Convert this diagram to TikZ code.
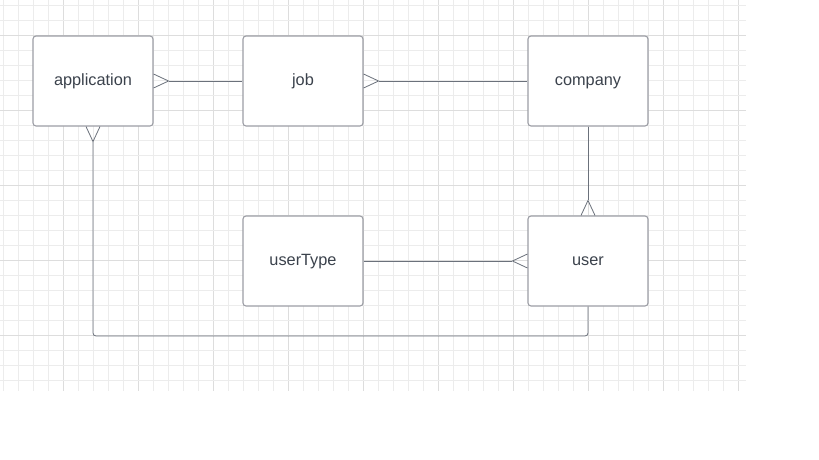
\documentclass[tikz,border=0pt]{standalone}
\usepackage{fontspec}
\setmainfont{Liberation Sans}
\usetikzlibrary{calc}
\definecolor{gridminor}{HTML}{ECECEC}
\definecolor{gridmajor}{HTML}{DDDDDD}
\definecolor{boxline}{HTML}{9C9EA5}
\definecolor{conline}{HTML}{6B717B}
\definecolor{txt}{HTML}{3B424C}
\tikzset{
  entity/.style={draw=boxline, line width=1.1pt, fill=white, rounded corners=3pt,
    minimum width=120pt, minimum height=90pt, inner sep=0pt, text=txt,
    text height=11.5pt, text depth=3.5pt,
    font=\fontsize{16.3}{19}\selectfont},
  conn/.style={draw=conline, line width=0.8pt},
}
\begin{document}
\begin{tikzpicture}[x=1pt, y=-1pt]
\useasboundingbox (0,0) rectangle (819,460);
\fill[white] (0,0) rectangle (819,460);
% grid
\foreach \i in {0,...,49} {
  \pgfmathtruncatemacro{\xx}{3+15*\i}
  \pgfmathtruncatemacro{\mm}{mod(\i,5)}
  \ifnum\mm=4 \draw[gridmajor, line width=0.9pt] (\xx,0) -- (\xx,391);
  \else \draw[gridminor, line width=0.9pt] (\xx,0) -- (\xx,391); \fi
}
\foreach \j in {0,...,25} {
  \pgfmathtruncatemacro{\yy}{5+15*\j}
  \pgfmathtruncatemacro{\mm}{mod(\j,5)}
  \ifnum\mm=2 \draw[gridmajor, line width=0.9pt] (0,\yy) -- (746,\yy);
  \else \draw[gridminor, line width=0.9pt] (0,\yy) -- (746,\yy); \fi
}
% entities
\node[entity] (app) at (93,81) {application};
\node[entity] (job) at (303,81) {job};
\node[entity] (comp) at (588,81) {company};
\node[entity] (utype) at (303,261) {userType};
\node[entity] (user) at (588,261) {user};
% application -- job (many at application)
\coordinate (aj) at ($(app.east)+(15,0)$);
\draw[conn] (aj) -- (job.west);
\draw[conn] ($(app.east)+(0,-7)$) -- (aj) -- ($(app.east)+(0,7)$);
% job -- company (many at job)
\coordinate (jc) at ($(job.east)+(15,0)$);
\draw[conn] (jc) -- (comp.west);
\draw[conn] ($(job.east)+(0,-7)$) -- (jc) -- ($(job.east)+(0,7)$);
% company -- user (many at user)
\coordinate (cu) at ($(user.north)+(0,-15)$);
\draw[conn] (comp.south) -- (cu);
\draw[conn] ($(user.north)+(-7,0)$) -- (cu) -- ($(user.north)+(7,0)$);
% userType -- user (many at user)
\coordinate (tu) at ($(user.west)+(-15,0)$);
\draw[conn] (utype.east) -- (tu);
\draw[conn] ($(user.west)+(0,-7)$) -- (tu) -- ($(user.west)+(0,7)$);
% user -- application (many at application)
\coordinate (au) at ($(app.south)+(0,15)$);
\coordinate (bl) at (93,336);
\draw[conn, rounded corners=3pt] (au) -- (bl) -| (user.south);
\draw[conn] ($(app.south)+(-7,0)$) -- (au) -- ($(app.south)+(7,0)$);
\end{tikzpicture}
\end{document}
